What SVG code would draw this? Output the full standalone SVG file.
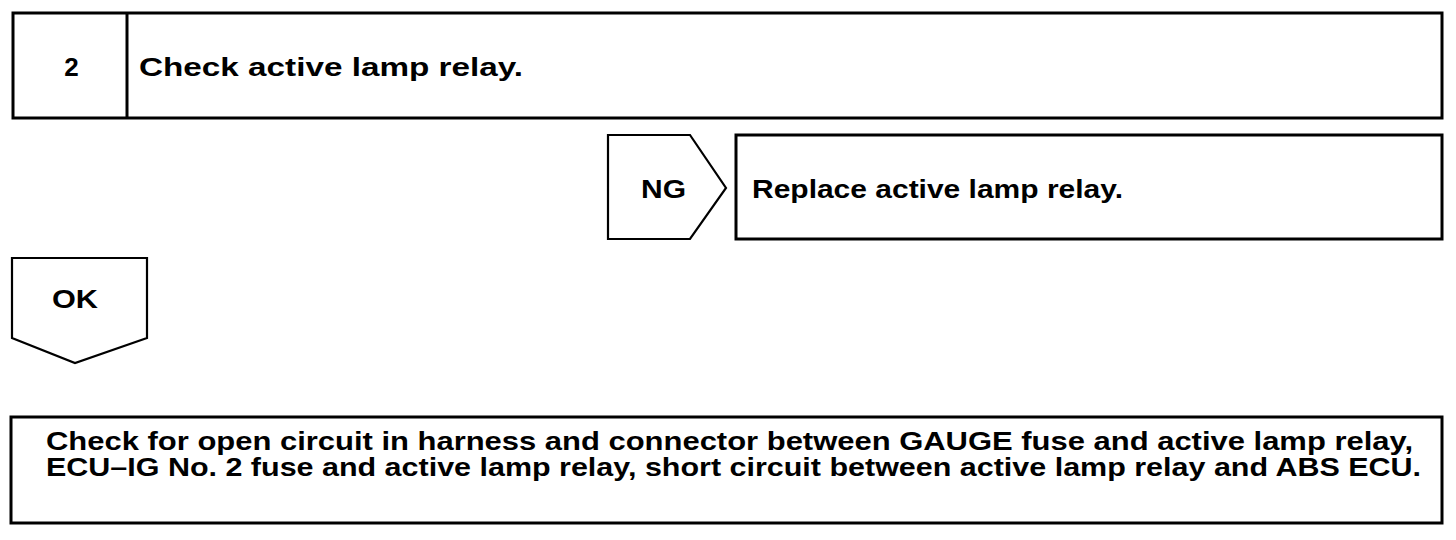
<svg xmlns="http://www.w3.org/2000/svg" width="1456" height="540" viewBox="0 0 1456 540">
<style>
.box{fill:#fff;stroke:#000;stroke-width:3}
.tag{fill:#fff;stroke:#000;stroke-width:2.2;stroke-linejoin:miter}
.t{font-family:"Liberation Sans",Arial,Helvetica,sans-serif;font-weight:bold;font-size:25px;fill:#000}
.big{font-size:26px}
</style>
<rect width="1456" height="540" fill="#fff"/>
<g id="step2">
<rect class="box" x="13" y="13" width="1429" height="105"/>
<line x1="127" y1="13" x2="127" y2="118" stroke="#000" stroke-width="3"/>
<text class="t big" x="71.5" y="76" text-anchor="middle">2</text>
<text class="t big" x="139" y="76" textLength="384" lengthAdjust="spacingAndGlyphs">Check active lamp relay.</text>
</g>
<g id="ng">
<path class="tag" d="M608,135 L690,135 L726,188 L690,239 L608,239 Z"/>
<text class="t" x="641" y="198" textLength="45" lengthAdjust="spacingAndGlyphs">NG</text>
</g>
<g id="replace">
<rect class="box" x="736" y="135" width="706" height="104"/>
<text class="t" x="752" y="198" textLength="371" lengthAdjust="spacingAndGlyphs">Replace active lamp relay.</text>
</g>
<g id="ok">
<path class="tag" d="M12,258 L147,258 L147,338 L75,363 L12,338 Z"/>
<text class="t" x="52" y="308" textLength="46" lengthAdjust="spacingAndGlyphs">OK</text>
</g>
<g id="check-open">
<rect class="box" x="11" y="417" width="1431" height="106"/>
<text class="t" x="46" y="450" textLength="1367" lengthAdjust="spacingAndGlyphs">Check for open circuit in harness and connector between GAUGE fuse and active lamp relay,</text>
<text class="t" x="46" y="476" textLength="1375" lengthAdjust="spacingAndGlyphs">ECU–IG No. 2 fuse and active lamp relay, short circuit between active lamp relay and ABS ECU.</text>
</g>
<g id="connectors"/>
</svg>
